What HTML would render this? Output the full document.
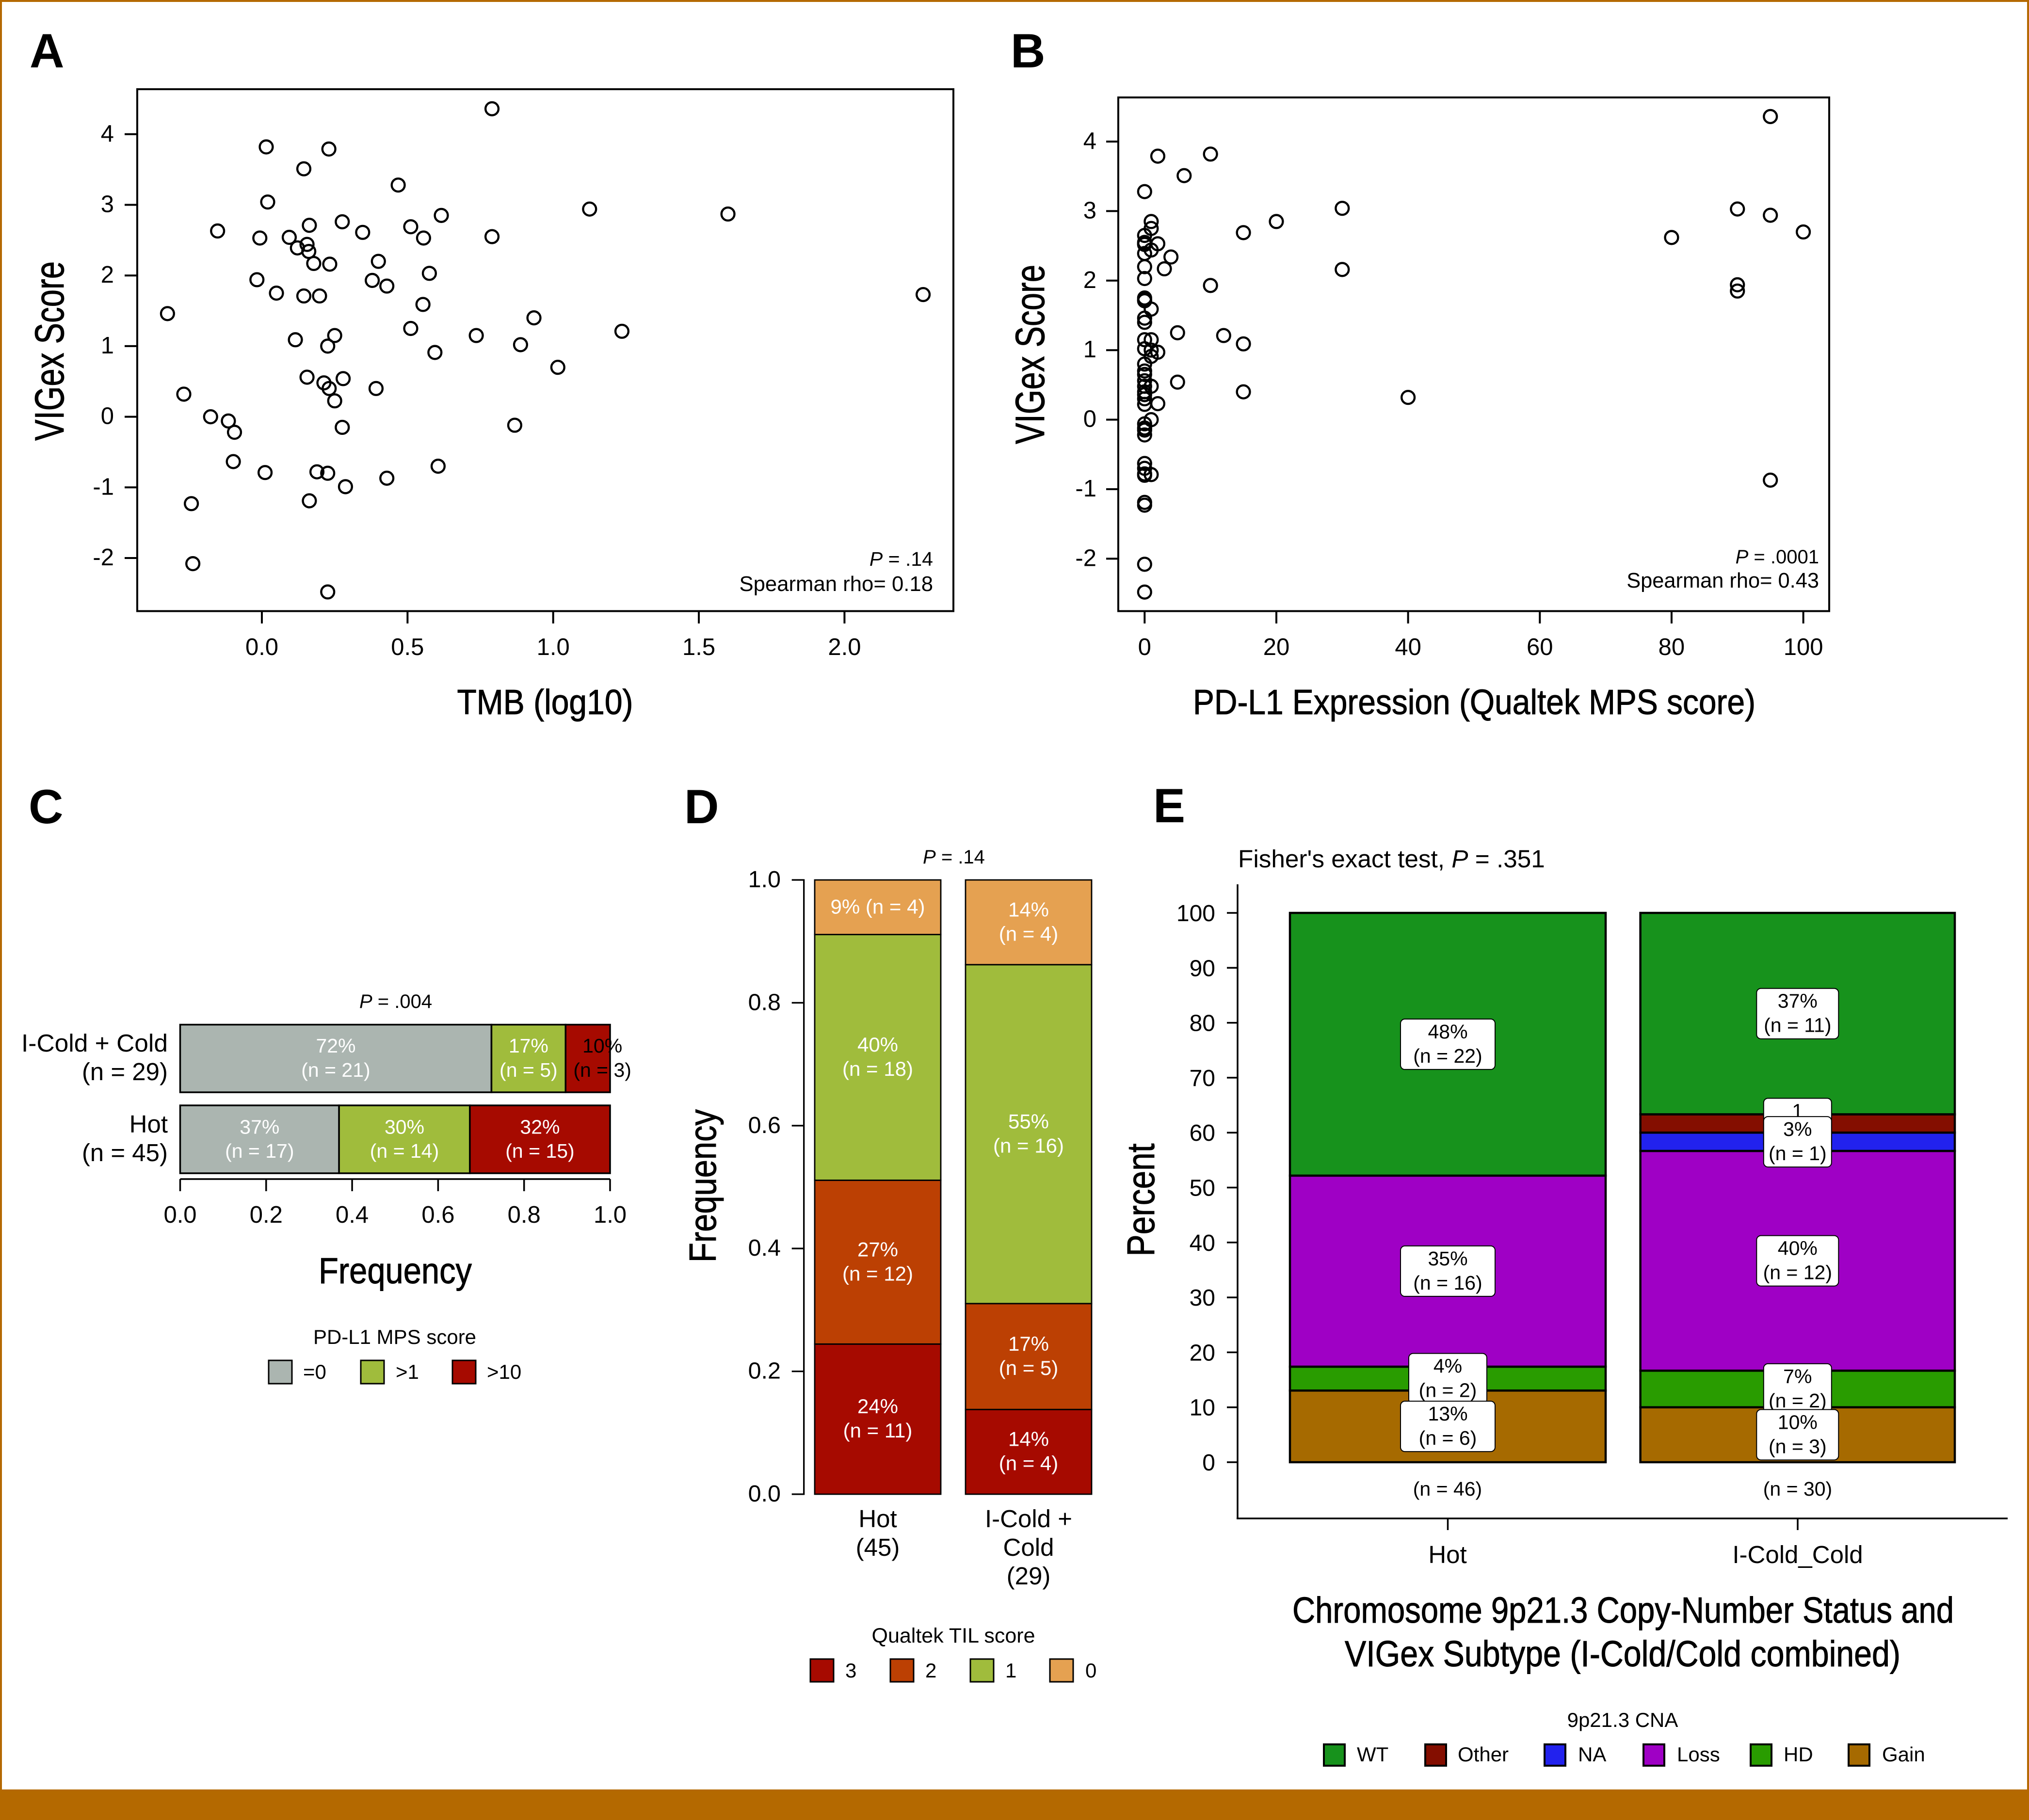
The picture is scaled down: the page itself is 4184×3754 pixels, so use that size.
<!DOCTYPE html>
<html lang="en">
<head>
<meta charset="utf-8">
<title>VIGex score figure</title>
<style>
html,body{margin:0;padding:0;background:#fff}
svg{display:block}
text{font-family:"Liberation Sans",sans-serif;fill:#000}
.l{font-weight:bold;font-size:99px}
.t{stroke:#000;stroke-width:1}
</style>
</head>
<body>
<svg id="fig" xmlns="http://www.w3.org/2000/svg" width="4184" height="3754" viewBox="0 0 4184 3754">
<rect x="0" y="0" width="4184" height="3754" fill="#fff"/>
<g fill="#B46900">
<rect x="0" y="0" width="4184" height="4"/>
<rect x="0" y="0" width="4" height="3754"/>
<rect x="4180" y="0" width="4" height="3754"/>
<rect x="0" y="3691" width="4184" height="63"/>
</g>

<text class="l" x="61" y="139">A</text>
<text class="l" x="2084" y="139">B</text>
<text class="l" x="59" y="1698">C</text>
<text class="l" x="1411" y="1698">D</text>
<text class="l" x="2378" y="1696">E</text>

<!-- Panel A -->
<rect x="283" y="184" width="1683" height="1076.5" fill="none" stroke="#000" stroke-width="4"/>
<g id="a"></g>
<text x="1924" y="1167" font-size="41" text-anchor="end"><tspan font-style="italic">P</tspan> = .14</text>
<text x="1924" y="1219" font-size="43.7" text-anchor="end">Spearman rho= 0.18</text>
<text class="t" x="1124" y="1473" font-size="72" text-anchor="middle" textLength="363" lengthAdjust="spacingAndGlyphs">TMB (log10)</text>
<text class="t" x="131" y="724" font-size="84" text-anchor="middle" textLength="370" lengthAdjust="spacingAndGlyphs" transform="rotate(-90 131 724)">VIGex Score</text>

<!-- Panel B -->
<rect x="2306" y="201" width="1466" height="1059.5" fill="none" stroke="#000" stroke-width="4"/>
<g id="b"></g>
<text x="3751" y="1162" font-size="40" text-anchor="end"><tspan font-style="italic">P</tspan> = .0001</text>
<text x="3751" y="1212" font-size="43.4" text-anchor="end">Spearman rho= 0.43</text>
<text class="t" x="3040" y="1473" font-size="72" text-anchor="middle" textLength="1160" lengthAdjust="spacingAndGlyphs">PD-L1 Expression (Qualtek MPS score)</text>
<text class="t" x="2153" y="731" font-size="84" text-anchor="middle" textLength="370" lengthAdjust="spacingAndGlyphs" transform="rotate(-90 2153 731)">VIGex Score</text>

<!-- Panel C -->
<text x="816" y="2079" font-size="40" text-anchor="middle"><tspan font-style="italic">P</tspan> = .004</text>
<text x="346" y="2169" font-size="51" text-anchor="end" textLength="302" lengthAdjust="spacingAndGlyphs">I-Cold + Cold</text>
<text x="346" y="2228" font-size="51" text-anchor="end">(n = 29)</text>
<text x="346" y="2336" font-size="51" text-anchor="end">Hot</text>
<text x="346" y="2395" font-size="51" text-anchor="end">(n = 45)</text>
<g id="c"></g>
<text class="t" x="815" y="2647" font-size="75" text-anchor="middle" textLength="316" lengthAdjust="spacingAndGlyphs">Frequency</text>
<g>
<text x="814" y="2772" font-size="42" text-anchor="middle">PD-L1 MPS score</text>
<rect x="554" y="2806" width="48" height="48" fill="#ABB5B0" stroke="#000" stroke-width="3"/>
<text x="625" y="2844" font-size="42">=0</text>
<rect x="744" y="2806" width="48" height="48" fill="#A0BC3C" stroke="#000" stroke-width="3"/>
<text x="816" y="2844" font-size="42">&gt;1</text>
<rect x="933" y="2806" width="48" height="48" fill="#A60A00" stroke="#000" stroke-width="3"/>
<text x="1004" y="2844" font-size="42">&gt;10</text>
</g>

<!-- Panel D -->
<text x="1967" y="1781" font-size="40" text-anchor="middle"><tspan font-style="italic">P</tspan> = .14</text>
<g id="d"></g>
<text x="1810" y="3150" font-size="51" text-anchor="middle">Hot</text>
<text x="1810" y="3209" font-size="51" text-anchor="middle">(45)</text>
<text x="2121" y="3150" font-size="51" text-anchor="middle">I-Cold +</text>
<text x="2121" y="3209" font-size="51" text-anchor="middle">Cold</text>
<text x="2121" y="3268" font-size="51" text-anchor="middle">(29)</text>
<text class="t" x="1476" y="2446" font-size="78" text-anchor="middle" textLength="316" lengthAdjust="spacingAndGlyphs" transform="rotate(-90 1476 2446)">Frequency</text>
<g>
<text x="1966" y="3388" font-size="43" text-anchor="middle">Qualtek TIL score</text>
<rect x="1671" y="3422" width="48" height="47" fill="#A60A00" stroke="#000" stroke-width="3"/>
<text x="1743" y="3460" font-size="42">3</text>
<rect x="1836" y="3422" width="48" height="47" fill="#BC4003" stroke="#000" stroke-width="3"/>
<text x="1908" y="3460" font-size="42">2</text>
<rect x="2001" y="3422" width="48" height="47" fill="#A0BC3C" stroke="#000" stroke-width="3"/>
<text x="2073" y="3460" font-size="42">1</text>
<rect x="2165" y="3422" width="48" height="47" fill="#E5A151" stroke="#000" stroke-width="3"/>
<text x="2238" y="3460" font-size="42">0</text>
</g>

<!-- Panel E -->
<text x="2553" y="1789" font-size="51.3">Fisher's exact test, <tspan font-style="italic">P</tspan> = .351</text>
<g id="e"></g>
<text x="2985" y="3224" font-size="51" text-anchor="middle">Hot</text>
<text x="3707" y="3224" font-size="51" text-anchor="middle">I-Cold_Cold</text>
<text x="2985" y="3085" font-size="41" text-anchor="middle">(n = 46)</text>
<text x="3707" y="3085" font-size="41" text-anchor="middle">(n = 30)</text>
<text class="t" x="2380" y="2475" font-size="80" text-anchor="middle" textLength="233" lengthAdjust="spacingAndGlyphs" transform="rotate(-90 2380 2475)">Percent</text>
<text class="t" x="3347" y="3347" font-size="75" text-anchor="middle" textLength="1364" lengthAdjust="spacingAndGlyphs">Chromosome 9p21.3 Copy-Number Status and</text>
<text class="t" x="3346" y="3437" font-size="75" text-anchor="middle" textLength="1146" lengthAdjust="spacingAndGlyphs">VIGex Subtype (I-Cold/Cold combined)</text>
<g>
<text x="3346" y="3562" font-size="42" text-anchor="middle">9p21.3 CNA</text>
<rect x="2730" y="3598" width="43" height="44" fill="#17921C" stroke="#000" stroke-width="4"/>
<text x="2798" y="3633" font-size="42">WT</text>
<rect x="2939" y="3598" width="43" height="44" fill="#840E00" stroke="#000" stroke-width="4"/>
<text x="3006" y="3633" font-size="42">Other</text>
<rect x="3185" y="3598" width="43" height="44" fill="#2222EE" stroke="#000" stroke-width="4"/>
<text x="3254" y="3633" font-size="42">NA</text>
<rect x="3389" y="3598" width="43" height="44" fill="#9F00C5" stroke="#000" stroke-width="4"/>
<text x="3458" y="3633" font-size="42">Loss</text>
<rect x="3610" y="3598" width="43" height="44" fill="#299C00" stroke="#000" stroke-width="4"/>
<text x="3678" y="3633" font-size="42">HD</text>
<rect x="3812" y="3598" width="43" height="44" fill="#A66A00" stroke="#000" stroke-width="4"/>
<text x="3881" y="3633" font-size="42">Gain</text>
</g>
</svg>
<script>
// ---- Panel A data ----
const tmbValues = [0.79,0.015,0.23,0.144,0.468,0.02,1.125,1.60,0.616,0.276,0.163,0.511,0.346,-0.152,-0.007,0.094,0.79,0.555,0.155,0.122,0.161,0.40,0.178,0.233,0.575,-0.017,0.379,0.429,0.05,0.144,0.198,2.27,0.553,-0.324,0.934,0.511,1.236,0.25,0.736,0.115,0.226,0.888,0.594,1.016,0.279,0.155,0.213,0.231,0.392,-0.268,0.25,-0.176,-0.115,-0.094,0.868,0.276,-0.098,0.011,0.189,0.226,0.605,0.429,0.287,0.163,-0.242,-0.237,0.226];
const vigexA = [4.36,3.82,3.79,3.51,3.28,3.04,2.94,2.87,2.85,2.76,2.71,2.69,2.61,2.63,2.53,2.54,2.55,2.53,2.44,2.39,2.34,2.20,2.17,2.16,2.03,1.94,1.93,1.85,1.75,1.71,1.71,1.73,1.59,1.46,1.40,1.25,1.21,1.15,1.15,1.09,1.00,1.02,0.91,0.70,0.54,0.56,0.48,0.40,0.40,0.32,0.225,0,-0.06,-0.22,-0.12,-0.15,-0.635,-0.79,-0.78,-0.80,-0.70,-0.87,-0.99,-1.19,-1.23,-2.08,-2.48];
const aXTicks = ["0.0","0.5","1.0","1.5","2.0"];
const scatterYTicks = ["4","3","2","1","0","-1","-2"];
// ---- Panel B data ----
const pdl1Values = [95,2,10,6,0,30,90,95,20,1,1,100,15,80,0,0,0,0,2,1,0,4,0,3,30,0,10,90,90,0,0,0,1,0,0,5,12,1,0,15,0,1,2,1,0,0,0,0,5,1,0,0,0,0,0,15,40,2,1,0,0,0,0,0,0,0,0,1,95,0,0,0,0];
const vigexB = [4.36,3.79,3.82,3.51,3.28,3.04,3.03,2.94,2.85,2.85,2.75,2.70,2.69,2.62,2.65,2.55,2.53,2.52,2.53,2.44,2.39,2.34,2.20,2.17,2.16,2.03,1.93,1.94,1.85,1.75,1.72,1.71,1.59,1.46,1.40,1.25,1.21,1.15,1.15,1.09,1.02,1.00,0.97,0.91,0.80,0.70,0.65,0.56,0.54,0.48,0.48,0.40,0.36,0.30,0.22,0.40,0.32,0.23,0,-0.06,-0.12,-0.15,-0.22,-0.63,-0.70,-0.78,-0.80,-0.79,-0.87,-1.19,-1.23,-2.08,-2.48];
const bXTicks = ["0","20","40","60","80","100"];
// ---- Panel C data ----
const cColdCounts = [21,5,3];
const cHotCounts = [17,14,15];
const cColdTotal = 29;
const cHotTotal = 46;
const cColdPct = ["72%","17%","10%"];
const cHotPct = ["37%","30%","32%"];
const cTicks = ["0.0","0.2","0.4","0.6","0.8","1.0"];
const cFills = ["#ABB5B0","#A0BC3C","#A60A00"];
// ---- Panel D data (bottom to top: 3,2,1,0) ----
const dHotCounts = [11,12,18,4];
const dColdCounts = [4,5,16,4];
const dHotTotal = 45;
const dColdTotal = 29;
const dHotPct = ["24%","27%","40%","9%"];
const dColdPct = ["14%","17%","55%","14%"];
const dTicks = ["0.0","0.2","0.4","0.6","0.8","1.0"];
const dFills = ["#A60A00","#BC4003","#A0BC3C","#E5A151"];
// ---- Panel E data (bottom to top: Gain,HD,Loss,NA,Other,WT) ----
const eHotCounts = [6,2,16,0,0,22];
const eColdCounts = [3,2,12,1,1,11];
const eHotTotal = 46;
const eColdTotal = 30;
const eHotPct = ["13%","4%","35%","","","48%"];
const eColdPct = ["10%","7%","40%","3%","1","37%"];
const eTicks = ["0","10","20","30","40","50","60","70","80","90","100"];
const eFills = ["#A66A00","#299C00","#9F00C5","#2222EE","#840E00","#17921C"];

const NS = "http://www.w3.org/2000/svg";
function mk(parent, tag, attrs, content) {
  const el = document.createElementNS(NS, tag);
  for (const k in attrs) el.setAttribute(k, attrs[k]);
  if (content !== undefined) el.textContent = content;
  parent.appendChild(el);
  return el;
}
function label(parent, x, y, str, size, anchor, color) {
  return mk(parent, "text", {x: x, y: y, "font-size": size, "text-anchor": anchor, style: "fill:" + color}, str);
}
function segLine(parent, x1, y1, x2, y2, w) {
  return mk(parent, "line", {x1: x1, y1: y1, x2: x2, y2: y2, stroke: "#000", "stroke-width": w});
}

// ---- Axis functions ----
const xA = v => 540 + v * 600.7;
const yA = v => 859.6 - v * 145.7;
const xB = v => 2360.3 + v * 13.583;
const yB = v => 865.6 - v * 143.4;
const xC = v => 371.5 + v * 886.5;
const yD = v => 3082 - v * 1267;
const yE = v => 3016 - v * 11.33;

// ---- Scatter A ----
const gA = document.getElementById("a");
aXTicks.forEach(t => {
  const px = xA(parseFloat(t));
  const tick = segLine(gA, px, 1261, px, 1286, 4);
  
  
  const lab = label(gA, px, 1351, t, 49, "middle", "#000");
  
  
});
scatterYTicks.forEach(t => {
  const py = yA(parseFloat(t));
  const tick = segLine(gA, 257, py, 283, py, 4);
  
  
  const lab = label(gA, 235, py + 15, t, 49, "end", "#000");
  
  
});
tmbValues.forEach((v, i) => {
  const c = mk(gA, "circle", {cx: xA(v), cy: yA(vigexA[i]), r: 13.4, fill: "none", stroke: "#000", "stroke-width": 4.4});
  
  
});

// ---- Scatter B ----
const gB = document.getElementById("b");
bXTicks.forEach(t => {
  const px = xB(parseFloat(t));
  const tick = segLine(gB, px, 1261, px, 1286, 4);
  
  
  const lab = label(gB, px, 1351, t, 49, "middle", "#000");
  
  
});
scatterYTicks.forEach(t => {
  const py = yB(parseFloat(t));
  const tick = segLine(gB, 2281, py, 2306, py, 4);
  
  
  const lab = label(gB, 2261, py + 15, t, 49, "end", "#000");
  
  
});
pdl1Values.forEach((v, i) => {
  const c = mk(gB, "circle", {cx: xB(v), cy: yB(vigexB[i]), r: 13.4, fill: "none", stroke: "#000", "stroke-width": 4.4});
  
  
});

// ---- Bars C ----
const gC = document.getElementById("c");
function drawCRow(counts, total, pcts, top, bottom, line1, line2) {
  let cum = 0;
  counts.forEach((n, i) => {
    const f = n / total;
    const r = mk(gC, "rect", {x: xC(cum), y: top, width: xC(cum + f) - xC(cum), height: bottom - top, fill: cFills[i], stroke: "#000", "stroke-width": 3.5});
    
    
    const small = f < 0.11;
    const cx = xC(cum + f / 2) + (small ? 30 : 0);
    const col = small ? "#000" : "#fff";
    const a = label(gC, cx, line1, pcts[i], 41, "middle", col);
    
    
    const b = label(gC, cx, line2, "(n = " + n + ")", 41, "middle", col);
    
    
    cum += f;
  });
}
drawCRow(cColdCounts, cColdTotal, cColdPct, 2113.5, 2253, 2171, 2221);
drawCRow(cHotCounts, cHotTotal, cHotPct, 2280, 2420, 2338.5, 2388);
const cAxis = segLine(gC, xC(0), 2432, xC(1), 2432, 3.5);


cTicks.forEach(t => {
  const px = xC(parseFloat(t));
  const tick = segLine(gC, px, 2432, px, 2457, 3.5);
  
  
  const lab = label(gC, px, 2522, t, 49, "middle", "#000");
  
  
});

// ---- Bars D ----
const gD = document.getElementById("d");
const dAxis = segLine(gD, 1657.7, yD(1) - 1.5, 1657.7, yD(0) + 1.5, 3.3);


dTicks.forEach(t => {
  const py = yD(parseFloat(t));
  const tick = segLine(gD, 1632.7, py, 1658, py, 3.3);
  
  
  const lab = label(gD, 1610, py + 15, t, 48.5, "end", "#000");
  
  
});
function drawDBar(counts, total, pcts, left, right) {
  let cum = 0;
  counts.forEach((n, i) => {
    const f = n / total;
    const top = yD(cum + f), bot = yD(cum);
    const r = mk(gD, "rect", {x: left, y: top, width: right - left, height: bot - top, fill: dFills[i], stroke: "#000", "stroke-width": 2.8});
    
    
    const mid = (top + bot) / 2, cx = (left + right) / 2;
    if (f < 0.1) {
      const a = label(gD, cx, mid + 13, pcts[i] + " (n = " + n + ")", 42, "middle", "#fff");
      
      
    } else {
      const a = label(gD, cx, mid - 12, pcts[i], 42, "middle", "#fff");
      
      
      const b = label(gD, cx, mid + 38, "(n = " + n + ")", 42, "middle", "#fff");
      
      
    }
    cum += f;
  });
}
drawDBar(dHotCounts, dHotTotal, dHotPct, 1680, 1940);
drawDBar(dColdCounts, dColdTotal, dColdPct, 1991, 2251);

// ---- Bars E ----
const gE = document.getElementById("e");
const eYAxis = segLine(gE, 2552, 1824, 2552, 3132, 3.5);


const eXAxis = segLine(gE, 2550, 3132, 4140, 3132, 3.5);


eTicks.forEach(t => {
  const py = yE(parseFloat(t));
  const tick = segLine(gE, 2530, py, 2552, py, 3.5);
  
  
  const lab = label(gE, 2506, py + 17, t, 48, "end", "#000");
  
  
});
[2985.5, 3707].forEach(px => {
  const tick = segLine(gE, px, 3132, px, 3156, 3.5);
  
  
});
function drawEBar(counts, total, pcts, left, right, wideBox, narrowBox) {
  const stack = [];
  let cum = 0;
  counts.forEach((n, i) => {
    const p = 100 * n / total;
    if (n > 0) {
      const r = mk(gE, "rect", {x: left, y: yE(cum + p), width: right - left, height: yE(cum) - yE(cum + p), fill: eFills[i], stroke: "#000", "stroke-width": 4.5});
      
      
      stack.push({n: n, pct: pcts[i], mid: yE(cum + p / 2)});
    }
    cum += p;
  });
  const cx = (left + right) / 2;
  stack.reverse().forEach(s => {
    const w = s.pct.length >= 3 ? wideBox : narrowBox;
    const box = mk(gE, "rect", {x: cx - w / 2, y: s.mid - 52, width: w, height: 104, rx: 9, fill: "#fff", stroke: "#000", "stroke-width": 2});
    
    
    const a = label(gE, cx, s.mid - 12, s.pct, 41, "middle", "#000");
    
    
    const b = label(gE, cx, s.mid + 38, "(n = " + s.n + ")", 41, "middle", "#000");
    
    
  });
}
drawEBar(eHotCounts, eHotTotal, eHotPct, 2660, 3311, 195, 161);
drawEBar(eColdCounts, eColdTotal, eColdPct, 3382.6, 4031, 169, 140);
</script>
</body>
</html>
